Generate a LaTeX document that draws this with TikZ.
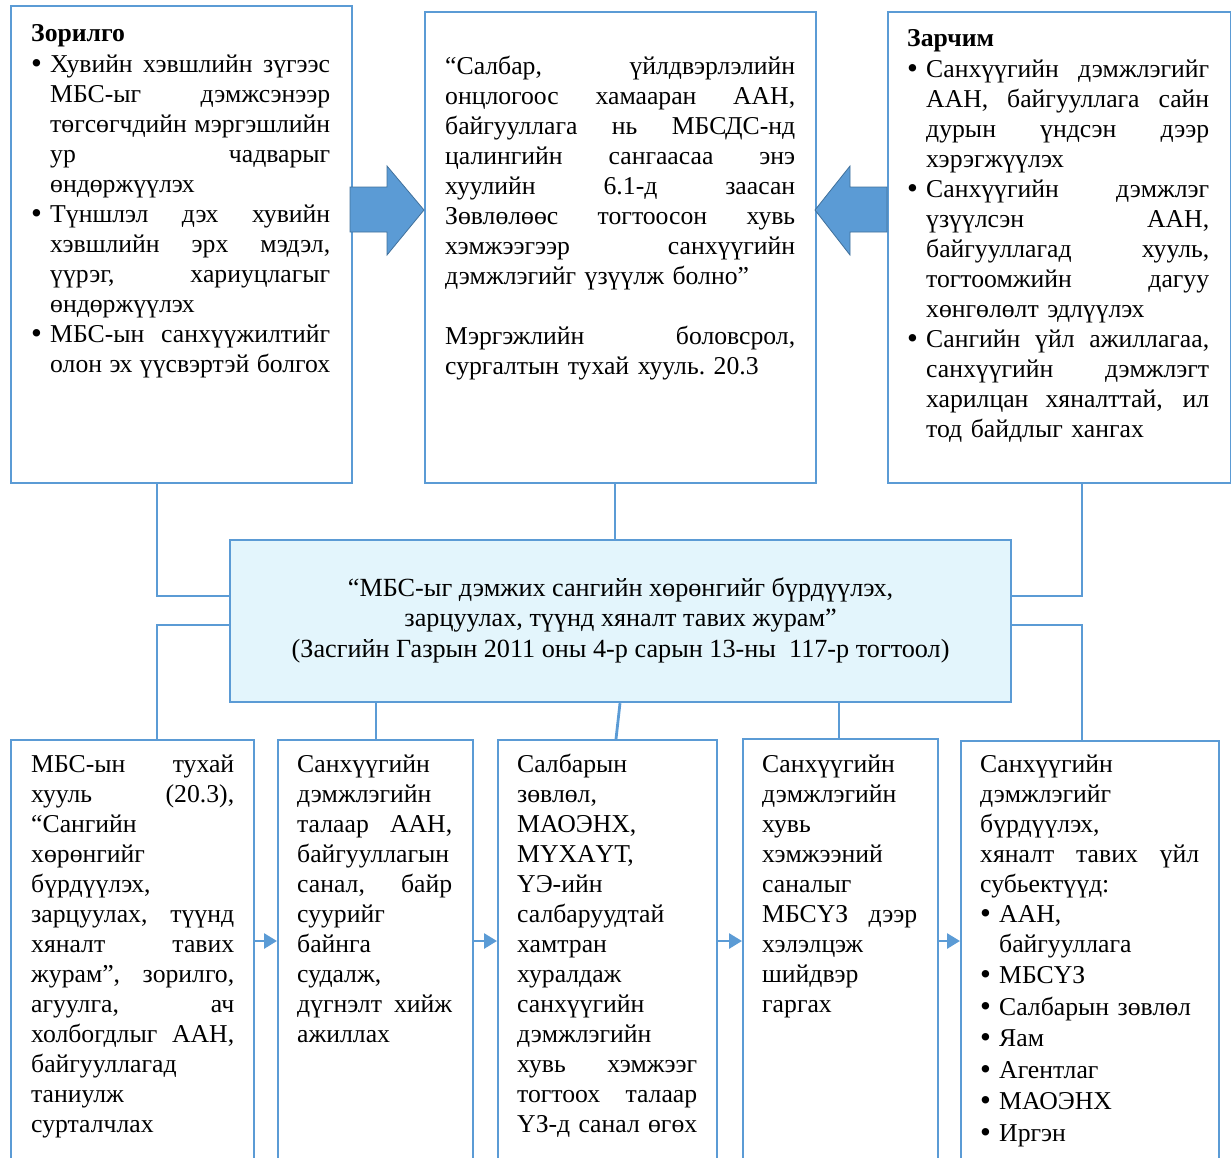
\documentclass[tikz,border=0pt]{standalone}
\usepackage{fontspec}
\usepackage{graphicx}
\setmainfont{Liberation Serif}
\usetikzlibrary{arrows.meta,calc}
\definecolor{lb}{HTML}{5B9BD5}
\definecolor{lbd}{HTML}{41719C}
\definecolor{cfill}{HTML}{E3F5FC}
\newlength\bind
\newcommand\bul{\raisebox{-1pt}{\fontsize{31}{31}\selectfont •}}
\newcommand\JL[1]{\makebox[\hsize][s]{\spaceskip=0pt\xspaceskip=0pt\relax #1}}
\newcommand\BI[1]{\makebox[\bind][l]{\bul}#1}
\newcommand\BJ[1]{\makebox[\bind][l]{\bul}\makebox[\dimexpr\hsize-\bind\relax][s]{\spaceskip=0pt\xspaceskip=0pt\relax #1}}
\newcommand\CJ[1]{\hspace*{\bind}\makebox[\dimexpr\hsize-\bind\relax][s]{\spaceskip=0pt\xspaceskip=0pt\relax #1}}
\newcommand\CI[1]{\hspace*{\bind}#1}
\tikzset{
  box/.style={draw=lb, line width=2.2pt, rectangle, inner sep=0pt, anchor=north west},
  txt/.style={anchor=base west, inner sep=0pt, align=left, font=\fontsize{25.7}{30}\selectfont},
  conn/.style={draw=lb, line width=2.8pt, line join=miter},
  sarr/.style={draw=lb, line width=2.8pt, -{Triangle[length=13pt,width=15pt]}},
  barrow/.style={fill=lb, draw=lbd, line width=0.8pt, line join=miter},
}
\begin{document}
\begin{tikzpicture}[x=1pt,y=-1pt]
\useasboundingbox (0,0) rectangle (1231,1157);
\clip (0,0) rectangle (1231,1157);
% boxes
\node[box, minimum width=341pt, minimum height=477pt] (zl) at (10,5) {};
\node[box, minimum width=391pt, minimum height=471pt] (zm) at (424,11) {};
\node[box, minimum width=343pt, minimum height=471pt] (zr) at (887,11) {};
\node[box, minimum width=243pt, minimum height=440pt] (b1) at (10,739) {};
\node[box, minimum width=195pt, minimum height=440pt] (b2) at (277,739) {};
\node[box, minimum width=219pt, minimum height=440pt] (b3) at (497,739) {};
\node[box, minimum width=195pt, minimum height=440pt] (b4) at (742,738) {};
\node[box, minimum width=258pt, minimum height=440pt] (b5) at (960,740) {};
% named helper coordinates
\coordinate (xl) at (157,0);
\coordinate (xr) at (1082,0);
\coordinate (xm) at (615,0);
\coordinate (x2) at (376,0);
\coordinate (x3a) at (620,0);
\coordinate (x3b) at (616,0);
\coordinate (x4) at (839,0);
\coordinate (yu) at (0,596);
\coordinate (yd) at (0,625);
\coordinate (ya) at (0,941);
% central box
\node[box, fill=cfill, minimum width=781pt, minimum height=162pt] (cb) at (229,539) {};
\node[inner sep=0pt, align=center, font=\fontsize{26.2}{30.5}\selectfont] (tcb) at ([yshift=1pt]cb.center)
  {“МБС-ыг дэмжих сангийн хөрөнгийг бүрдүүлэх,\\
   зарцуулах, түүнд хяналт тавих журам”\\
   (Засгийн Газрын 2011 оны 4-р сарын 13-ны\ \ 117-р тогтоол)};
% connectors
\draw[conn] (xl |- zl.south) -- (xl |- yu) -- (cb.west |- yu);
\draw[conn] (xr |- zr.south) -- (xr |- yu) -- (cb.east |- yu);
\draw[conn] (xm |- zm.south) -- (xm |- cb.north);
\draw[conn] (cb.west |- yd) -- (xl |- yd) -- (xl |- b1.north);
\draw[conn] (cb.east |- yd) -- (xr |- yd) -- (xr |- b5.north);
\draw[conn] (x2 |- cb.south) -- (x2 |- b2.north);
\draw[conn] (x3a |- cb.south) -- (x3b |- b3.north);
\draw[conn] (x4 |- cb.south) -- (x4 |- b4.north);
\draw[sarr] (b1.east |- ya) -- (b2.west |- ya);
\draw[sarr] (b2.east |- ya) -- (b3.west |- ya);
\draw[sarr] (b3.east |- ya) -- (b4.west |- ya);
\draw[sarr] (b4.east |- ya) -- (b5.west |- ya);
% block arrows
\draw[barrow] (350,187) -- (387,187) -- (387,166) -- (424,210) -- (387,255) -- (387,232) -- (350,232) -- cycle;
\draw[barrow] (887,187) -- (850,187) -- (850,166) -- (815,210) -- (850,255) -- (850,232) -- (887,232) -- cycle;
% texts
\node[txt, text width=299pt] (tzl) at (31,41) {\setlength\bind{19pt}%
  \textbf{Зорилго}\\[1pt]
  \BJ{Хувийн хэвшлийн зүгээс}\\
  \CJ{МБС-ыг дэмжсэнээр}\\
  \CJ{төгсөгчдийн мэргэшлийн}\\
  \CJ{ур чадварыг}\\
  \CI{өндөржүүлэх}\\
  \BJ{Түншлэл дэх хувийн}\\
  \CJ{хэвшлийн эрх мэдэл,}\\
  \CJ{үүрэг, хариуцлагыг}\\
  \CI{өндөржүүлэх}\\
  \BJ{МБС-ын санхүүжилтийг}\\
  \CJ{олон эх үүсвэртэй болгох}};
\node[txt, text width=350pt] (tzm) at (445,74) {%
  \JL{“Салбар, үйлдвэрлэлийн}\\
  \JL{онцлогоос хамааран ААН,}\\
  \JL{байгууллага нь МБСДС-нд}\\
  \JL{цалингийн сангаасаа энэ}\\
  \JL{хуулийн 6.1-д заасан}\\
  \JL{Зөвлөлөөс тогтоосон хувь}\\
  \JL{хэмжээгээр санхүүгийн}\\
  дэмжлэгийг үзүүлж болно”\\[30pt]
  \JL{Мэргэжлийн боловсрол,}\\
  сургалтын тухай хууль.\ 20.3};
\node[txt, text width=302pt] (tzr) at (907,46) {\setlength\bind{19pt}%
  \textbf{Зарчим}\\[1pt]
  \BJ{Санхүүгийн дэмжлэгийг}\\
  \CJ{ААН, байгууллага сайн}\\
  \CJ{дурын үндсэн дээр}\\
  \CI{хэрэгжүүлэх}\\
  \BJ{Санхүүгийн дэмжлэг}\\
  \CJ{үзүүлсэн ААН,}\\
  \CJ{байгууллагад хууль,}\\
  \CJ{тогтоомжийн дагуу}\\
  \CI{хөнгөлөлт эдлүүлэх}\\
  \BJ{Сангийн үйл ажиллагаа,}\\
  \CJ{санхүүгийн дэмжлэгт}\\
  \CJ{харилцан хяналттай, ил}\\
  \CI{тод байдлыг хангах}};
\node[txt, text width=203pt] (t1) at (31,772) {%
  \JL{МБС-ын тухай}\\
  \JL{хууль (20.3),}\\
  “Сангийн\\
  хөрөнгийг\\
  бүрдүүлэх,\\
  \JL{зарцуулах, түүнд}\\
  \JL{хяналт тавих}\\
  \JL{журам”, зорилго,}\\
  \JL{агуулга, ач}\\
  \JL{холбогдлыг ААН,}\\
  байгууллагад\\
  таниулж\\
  сурталчлах};
\node[txt, text width=155pt] (t2) at (297,772) {%
  Санхүүгийн\\
  дэмжлэгийн\\
  \JL{талаар ААН,}\\
  байгууллагын\\
  \JL{санал, байр}\\
  суурийг\\
  байнга\\
  судалж,\\
  \JL{дүгнэлт хийж}\\
  ажиллах};
\node[txt, text width=180pt] (t3) at (517,772) {%
  Салбарын\\
  зөвлөл,\\
  МАОЭНХ,\\
  МҮХАҮТ,\\
  ҮЭ-ийн\\
  салбаруудтай\\
  хамтран\\
  хуралдаж\\
  санхүүгийн\\
  дэмжлэгийн\\
  \JL{хувь хэмжээг}\\
  \JL{тогтоох талаар}\\
  \JL{ҮЗ-д санал өгөх}};
\node[txt, text width=155pt] (t4) at (762,772) {%
  Санхүүгийн\\
  дэмжлэгийн\\
  хувь\\
  хэмжээний\\
  саналыг\\
  \JL{МБСҮЗ дээр}\\
  хэлэлцэж\\
  шийдвэр\\
  гаргах};
\node[txt, text width=219pt] (t5) at (980,772) {\setlength\bind{19pt}%
  Санхүүгийн\\
  дэмжлэгийг\\
  бүрдүүлэх,\\
  \JL{хяналт тавих үйл}\\
  субьектүүд:\\
  \BI{ААН,}\\
  \CI{байгууллага}\\[1.5pt]
  \BI{МБСҮЗ}\\[1.5pt]
  \BI{Салбарын зөвлөл}\\[1.5pt]
  \BI{Яам}\\[1.5pt]
  \BI{Агентлаг}\\[1.5pt]
  \BI{МАОЭНХ}\\[1.5pt]
  \BI{Иргэн}};
\end{tikzpicture}
\end{document}
